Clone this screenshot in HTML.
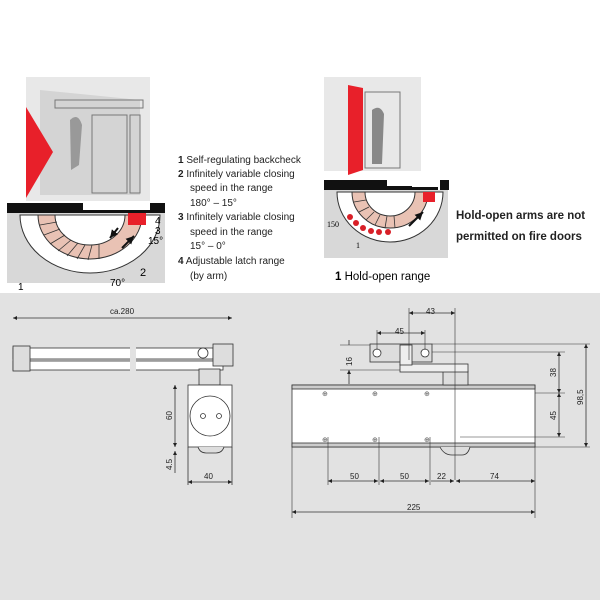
<!DOCTYPE html>
<html><head><meta charset="utf-8"><style>
html,body{margin:0;padding:0;background:#fff;}
svg{display:block;font-family:"Liberation Sans",sans-serif;}
</style></head><body>
<svg width="600" height="600" viewBox="0 0 600 600" xmlns="http://www.w3.org/2000/svg">
<defs>
<marker id="a" viewBox="0 0 10 10" refX="10" refY="5" markerWidth="7" markerHeight="5" orient="auto-start-reverse"><path d="M0,0L10,5L0,10z" fill="#222"/></marker>
<marker id="b" viewBox="0 0 10 10" refX="10" refY="5" markerWidth="4" markerHeight="4" orient="auto"><path d="M0,0L10,5L0,10z" fill="#111"/></marker>
</defs>
<rect x="0" y="0" width="600" height="293" fill="#fff"/>
<rect x="0" y="293" width="600" height="307" fill="#e2e2e2"/>

<!-- top-left illustration -->
<rect x="26" y="77" width="124" height="124" fill="#e8e8e8"/>
<path d="M40,90 L140,100 L140,195 L40,195Z" fill="#d4d4d4"/>
<rect x="55" y="100" width="88" height="8" fill="none" stroke="#777"/>
<rect x="92" y="115" width="35" height="78" fill="none" stroke="#777"/>
<rect x="130" y="115" width="10" height="78" fill="none" stroke="#777"/>
<path d="M70,120 q8,-8 12,5 l-3,40 l-8,5z" fill="#999"/>
<polygon points="26,107 53,152 26,198" fill="#e8202a"/>
<rect x="7" y="213" width="158" height="70" fill="#d8d8d8"/>
<path d="M7,203 H83 V210 H110 V213 H7Z M150,203 H165 V213 H150Z M85,210 H153 V213 H85Z" fill="#111"/>
<path d="M20,215 A70,58 0 0 0 160,215 Z" fill="#fff" stroke="#333"/>
<path d="M38,215 A52,44 0 0 0 142,215 L125,215 A35,30 0 0 1 55,215Z" fill="#e9c2b4" stroke="#333"/>
<g stroke="#333" stroke-width="0.8">
<line x1="40" y1="225" x2="57" y2="222"/><line x1="44" y1="235" x2="60" y2="229"/><line x1="50" y1="244" x2="65" y2="235"/><line x1="58" y1="251" x2="71" y2="240"/><line x1="67" y1="256" x2="78" y2="243"/><line x1="77" y1="259" x2="85" y2="245"/><line x1="88" y1="260" x2="92" y2="245"/><line x1="99" y1="259" x2="99" y2="244"/>
</g>
<line x1="122" y1="248" x2="134" y2="236" stroke="#111" stroke-width="2" marker-end="url(#b)"/>
<line x1="118" y1="228" x2="110" y2="238" stroke="#111" stroke-width="2" marker-end="url(#b)"/>
<rect x="128" y="213" width="18" height="12" fill="#e8202a"/>
<text x="18" y="290" font-size="10">1</text>
<text x="110" y="286" font-size="10">70°</text>
<text x="140" y="276" font-size="11">2</text>
<text x="155" y="224" font-size="10">4</text>
<text x="155" y="234" font-size="10">3</text>
<text x="148" y="244" font-size="10">15°</text>

<g font-size="10" fill="#222">
<text x="178" y="163"><tspan font-weight="bold">1</tspan> Self-regulating backcheck</text>
<text x="178" y="177"><tspan font-weight="bold">2</tspan> Infinitely variable closing</text>
<text x="190" y="191">speed in the range</text>
<text x="190" y="206">180° – 15°</text>
<text x="178" y="220"><tspan font-weight="bold">3</tspan> Infinitely variable closing</text>
<text x="190" y="235">speed in the range</text>
<text x="190" y="249">15° – 0°</text>
<text x="178" y="264"><tspan font-weight="bold">4</tspan> Adjustable latch range</text>
<text x="190" y="279">(by arm)</text>
</g>

<!-- top-right illustration -->
<rect x="324" y="77" width="97" height="94" fill="#e8e8e8"/>
<rect x="365" y="92" width="35" height="76" fill="none" stroke="#777"/>
<path d="M372,110 q8,-6 12,4 l-2,50 l-10,0z" fill="#888"/>
<polygon points="348,85 363,88 363,170 348,175" fill="#e8202a"/>
<rect x="324" y="190" width="124" height="68" fill="#d8d8d8"/>
<path d="M324,180 H387 V186 H412 V190 H324Z M440,180 H449 V190 H440Z M389,187 H438 V190 H389Z" fill="#111"/>
<path d="M337,192 A53,50 0 0 0 443,192 Z" fill="#fff" stroke="#333"/>
<path d="M352,192 A38,36 0 0 0 428,192 L415,192 A25,24 0 0 1 365,192Z" fill="#e9c2b4" stroke="#333"/>
<g stroke="#333" stroke-width="0.8">
<line x1="354" y1="202" x2="366" y2="200"/><line x1="359" y1="212" x2="369" y2="207"/><line x1="366" y1="220" x2="374" y2="212"/><line x1="375" y1="225" x2="380" y2="215"/><line x1="385" y1="228" x2="387" y2="216"/><line x1="395" y1="228" x2="394" y2="216"/>
</g>
<line x1="409" y1="226" x2="423" y2="212" stroke="#111" stroke-width="2" marker-end="url(#b)"/>
<rect x="423" y="192" width="12" height="10" fill="#e8202a"/>
<g fill="#d81f27"><circle cx="350" cy="217" r="3"/><circle cx="356" cy="223" r="3"/><circle cx="363" cy="228" r="3"/><circle cx="371" cy="231" r="3"/><circle cx="379" cy="232" r="3"/><circle cx="388" cy="232" r="3"/></g>
<text x="327" y="227" font-size="8" font-family="Liberation Serif,serif">150</text>
<text x="356" y="248" font-size="8" font-family="Liberation Serif,serif">1</text>
<text x="335" y="280" font-size="11.5"><tspan font-weight="bold">1</tspan> Hold-open range</text>
<text x="456" y="219" font-size="11.5" font-weight="bold" fill="#222">Hold-open arms are not</text>
<text x="456" y="240" font-size="11.5" font-weight="bold" fill="#222">permitted on fire doors</text>

<!-- bottom-left drawing -->
<g stroke="#333" stroke-width="0.8" fill="#fff">
<line x1="13" y1="318" x2="232" y2="318" marker-start="url(#a)" marker-end="url(#a)"/>
<rect x="13" y="348" width="200" height="11"/>
<rect x="13" y="361" width="210" height="9"/>
<rect x="13" y="346" width="17" height="25" fill="#ddd"/>
<rect x="213" y="344" width="20" height="22" fill="#ddd"/>
<circle cx="203" cy="353" r="5"/>
<rect x="199" y="369" width="21" height="16" fill="#ddd"/>
<rect x="188" y="385" width="44" height="62"/>
<circle cx="210" cy="416" r="20"/>
<circle cx="203" cy="416" r="2.5"/><circle cx="219" cy="416" r="2.5"/>
<path d="M198,447 q2,6 8,6 h10 q6,0 8,-6" fill="#ddd"/>
<line x1="175" y1="385" x2="175" y2="447" marker-start="url(#a)" marker-end="url(#a)"/>
<line x1="175" y1="451" x2="175" y2="473" marker-start="url(#a)"/>
<line x1="188" y1="482" x2="232" y2="482" marker-start="url(#a)" marker-end="url(#a)"/>
<line x1="188" y1="447" x2="188" y2="485"/><line x1="232" y1="447" x2="232" y2="485"/>
</g>
<rect x="130" y="340" width="6" height="40" fill="#e2e2e2"/>
<g font-size="8" fill="#222">
<text x="110" y="314">ca.280</text>
<text x="172" y="420" transform="rotate(-90 172 420)">60</text>
<text x="172" y="470" transform="rotate(-90 172 470)">4.5</text>
<text x="204" y="479">40</text>
</g>

<!-- bottom-right drawing -->
<g stroke="#333" stroke-width="0.8" fill="#fff">
<rect x="292" y="385" width="243" height="62"/>
<rect x="292" y="385" width="243" height="4" fill="#ccc"/>
<rect x="292" y="443" width="243" height="4" fill="#ccc"/>
<path d="M440,447 q4,8 12,8 h10 q6,0 8,-8" fill="#ddd"/>
<rect x="443" y="371" width="25" height="14" fill="#ddd"/>
<rect x="400" y="364" width="68" height="8" fill="#eee"/>
<rect x="370" y="344" width="62" height="18" fill="#ddd"/>
<rect x="400" y="345" width="12" height="20" fill="#eee"/>
<circle cx="377" cy="353" r="4"/><circle cx="425" cy="353" r="4"/>
<g fill="none" stroke-width="0.6">
<line x1="409" y1="308" x2="409" y2="360"/><line x1="455" y1="308" x2="455" y2="480"/>
<line x1="377" y1="330" x2="377" y2="350"/><line x1="425" y1="330" x2="425" y2="350"/>
<line x1="340" y1="345" x2="370" y2="345"/><line x1="340" y1="370" x2="400" y2="370"/>
<line x1="432" y1="344" x2="590" y2="344"/><line x1="432" y1="352" x2="565" y2="352"/>
<line x1="535" y1="393" x2="565" y2="393"/><line x1="460" y1="437" x2="565" y2="437"/>
<line x1="535" y1="447" x2="590" y2="447"/>
<line x1="292" y1="447" x2="292" y2="518"/><line x1="535" y1="447" x2="535" y2="518"/>
<line x1="328" y1="437" x2="328" y2="485"/><line x1="379" y1="437" x2="379" y2="485"/><line x1="430" y1="437" x2="430" y2="485"/>
</g>
<line x1="409" y1="313" x2="455" y2="313" marker-start="url(#a)" marker-end="url(#a)"/>
<line x1="377" y1="333" x2="425" y2="333" marker-start="url(#a)" marker-end="url(#a)"/>
<line x1="349" y1="340" x2="349" y2="345" />
<line x1="349" y1="370" x2="349" y2="384" marker-start="url(#a)"/>
<line x1="559" y1="352" x2="559" y2="393" marker-start="url(#a)" marker-end="url(#a)"/>
<line x1="559" y1="393" x2="559" y2="437" marker-start="url(#a)" marker-end="url(#a)"/>
<line x1="586" y1="344" x2="586" y2="447" marker-start="url(#a)" marker-end="url(#a)"/>
<line x1="328" y1="481" x2="378" y2="481" marker-start="url(#a)" marker-end="url(#a)"/>
<line x1="380" y1="481" x2="429" y2="481" marker-start="url(#a)" marker-end="url(#a)"/>
<line x1="431" y1="481" x2="454" y2="481" marker-end="url(#a)"/>
<line x1="456" y1="481" x2="535" y2="481" marker-start="url(#a)" marker-end="url(#a)"/>
<line x1="292" y1="512" x2="535" y2="512" marker-start="url(#a)" marker-end="url(#a)"/>
</g>
<g font-size="7" fill="#555">
<text x="322" y="396">⊕</text><text x="372" y="396">⊕</text><text x="424" y="396">⊕</text>
<text x="322" y="442">⊕</text><text x="372" y="442">⊕</text><text x="424" y="442">⊕</text>
</g>
<g font-size="8" fill="#222">
<text x="426" y="314">43</text>
<text x="395" y="334">45</text>
<text x="352" y="366" transform="rotate(-90 352 366)">16</text>
<text x="350" y="479">50</text>
<text x="400" y="479">50</text>
<text x="437" y="479">22</text>
<text x="490" y="479">74</text>
<text x="407" y="510">225</text>
<text x="556" y="377" transform="rotate(-90 556 377)">38</text>
<text x="556" y="420" transform="rotate(-90 556 420)">45</text>
<text x="583" y="405" transform="rotate(-90 583 405)">98,5</text>
</g>
</svg>
</body></html>
